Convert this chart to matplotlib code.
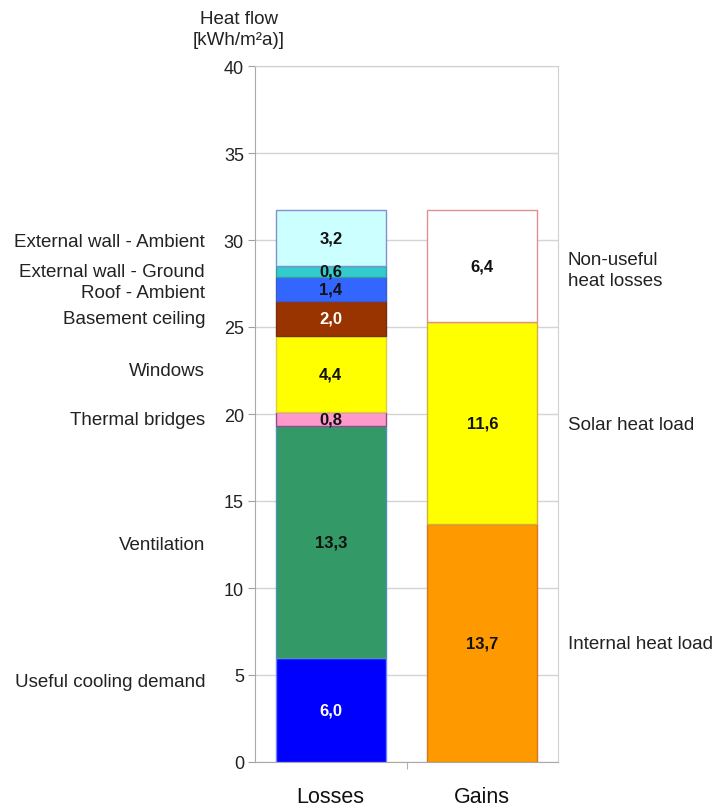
import numpy as np
import matplotlib; matplotlib.use("Agg")
import matplotlib.pyplot as plt

plt.rcParams["font.family"] = ["Liberation Sans", "DejaVu Sans"]

# stacked heat flows, bottom to top
loss_names = ["Useful cooling demand", "Ventilation", "Thermal bridges", "Windows",
              "Basement ceiling", "Roof - Ambient", "External wall - Ground", "External wall - Ambient"]
loss_vals = [6.0, 13.3, 0.8, 4.4, 2.0, 1.4, 0.6, 3.2]
loss_cols = ["#0000ff", "#339966", "#ff99cc", "#ffff00", "#993300", "#3366ff", "#33cccc", "#ccffff"]
loss_edges = ["#6f7fff", "#4f8fb0", "#8a4f8a", "#d8d040", "#7a3010", "#3a5ad0", "#3a9aa8", "#8090d0"]
loss_txt = ["white", "#111111", "#111111", "#111111", "white", "#111111", "#111111", "#111111"]
# label heights beside the bar (kWh/m²a)
loss_lab_y = [4.6, 12.5, 19.7, 22.5, 25.5, 27.0, 28.2, 29.9]

gain_names = ["Internal heat load", "Solar heat load", "Non-useful\nheat losses"]
gain_vals = [13.7, 11.6, 6.4]
gain_cols = ["#ff9900", "#ffff00", "#ffffff"]
gain_edges = ["#d07a20", "#d0b040", "#e09090"]
gain_lab_y = [6.8, 19.4, 28.3]

categories = ["Losses", "Gains"]

fig = plt.figure(figsize=(7.18, 8.12), dpi=100)
ax = fig.add_axes([255 / 718, 49 / 812, 303 / 718, 696 / 812])

w = 0.726
bottom = 0.0
for v, c, ec, tc in zip(loss_vals, loss_cols, loss_edges, loss_txt):
    ax.bar(0, v, w, bottom=bottom, color=c, edgecolor=ec, lw=1, zorder=3)
    ax.text(0, bottom + v / 2, f"{v:.1f}".replace(".", ","), ha="center", va="center",
            fontsize=12, fontweight="bold", color=tc, zorder=4)
    bottom += v

bottom = 0.0
for v, c, ec in zip(gain_vals, gain_cols, gain_edges):
    ax.bar(1, v, w, bottom=bottom, color=c, edgecolor=ec, lw=1, zorder=3)
    ax.text(1, bottom + v / 2, f"{v:.1f}".replace(".", ","), ha="center", va="center",
            fontsize=12, fontweight="bold", color="#111111", zorder=4)
    bottom += v

ax.set_xlim(-0.5, 1.5)
ax.set_ylim(0, 40)
ax.set_yticks(np.arange(0, 41, 5))
ax.tick_params(axis="y", labelsize=13, colors="#a0a0a0", labelcolor="#222222", length=5, pad=3)
ax.yaxis.grid(True, color="#d4d4d4", lw=1, zorder=0)

ax.set_xticks([0.5])
ax.set_xticklabels([""])
ax.set_xticks([0, 1], minor=True)
ax.set_xticklabels(categories, minor=True, fontsize=15.5, color="#111111")
ax.tick_params(axis="x", which="major", colors="#b0b0b0", length=5)
ax.tick_params(axis="x", which="minor", length=0, pad=17)

for s in ["left", "bottom"]:
    ax.spines[s].set_color("#a8a8a8")
for s in ["top", "right"]:
    ax.spines[s].set_color("#d0d0d0")

# component names left of the axis, gain names right of it
for name, y in zip(loss_names, loss_lab_y):
    ax.text(-0.83, y, name, ha="right", va="center", fontsize=13.5, color="#222222")
for name, y in zip(gain_names, gain_lab_y):
    ax.text(1.565, y, name, ha="left", va="center", fontsize=13.5, color="#222222",
            linespacing=1.3)

fig.text(239 / 718, 1 - 30 / 812, "Heat flow\n[kWh/m²a)]", ha="center", va="center",
         fontsize=13.5, color="#222222", linespacing=1.3)

fig.savefig("out.png", dpi=100)
